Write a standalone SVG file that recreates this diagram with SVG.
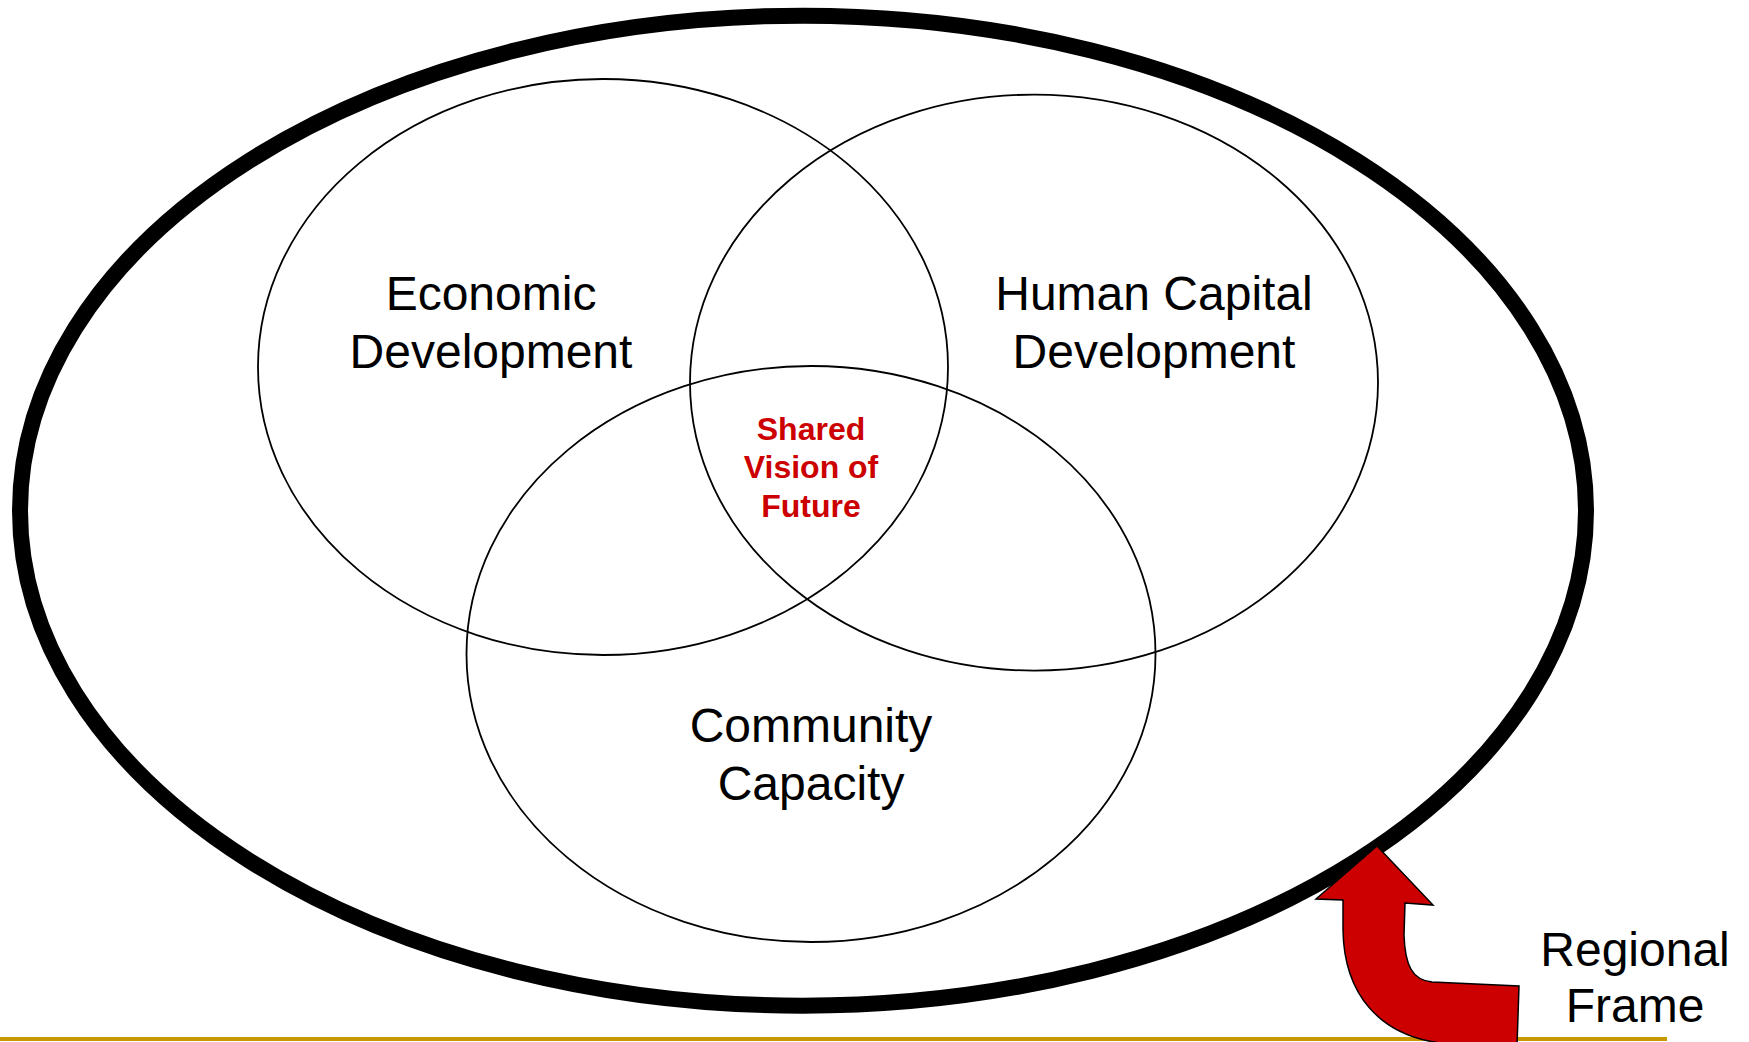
<svg xmlns="http://www.w3.org/2000/svg" width="1749" height="1042" viewBox="0 0 1749 1042">
<style>
.venn{fill:none;stroke:#000;stroke-width:1.8}
.lbl{font-family:"Liberation Sans",Arial,sans-serif;font-size:48px;fill:#000;text-anchor:middle}
.core{font-family:"Liberation Sans",Arial,sans-serif;font-size:32px;font-weight:bold;fill:#CC0000;text-anchor:middle}
</style>
<rect x="0" y="0" width="1749" height="1042" fill="#fff"/>
<rect x="0" y="1037" width="1667" height="4" fill="#C89800"/>
<g id="regional-frame-ellipse">
<ellipse cx="803" cy="510.7" rx="783" ry="495" fill="none" stroke="#000" stroke-width="16"/>
</g>
<g id="economic-development">
<ellipse class="venn" cx="603" cy="367" rx="345" ry="288"/>
<text class="lbl" x="491" y="310">Economic</text>
<text class="lbl" x="491" y="368">Development</text>
</g>
<g id="human-capital-development">
<ellipse class="venn" cx="1034" cy="382.6" rx="344" ry="288"/>
<text class="lbl" x="1154" y="310">Human Capital</text>
<text class="lbl" x="1154" y="368">Development</text>
</g>
<g id="community-capacity">
<ellipse class="venn" cx="811" cy="654" rx="344.5" ry="288"/>
<text class="lbl" x="811" y="742">Community</text>
<text class="lbl" x="811" y="800">Capacity</text>
</g>
<g id="shared-vision">
<text class="core" x="811" y="439.5">Shared</text>
<text class="core" x="811" y="478">Vision of</text>
<text class="core" x="811" y="517">Future</text>
</g>
<g id="connectors">
<path d="M1377,846 L1433,905 L1405,903 L1404,935 C1405,965 1412,980 1432,982 L1519,986 L1517,1046 L1440,1043 C1380,1035 1344,995 1343,930 L1343,900 L1316,899 Z" fill="#CC0000" stroke="#000" stroke-width="1.5" stroke-linejoin="miter"/>
</g>
<g id="regional-frame-label">
<text class="lbl" x="1635" y="966">Regional</text>
<text class="lbl" x="1635" y="1022">Frame</text>
</g>
</svg>
